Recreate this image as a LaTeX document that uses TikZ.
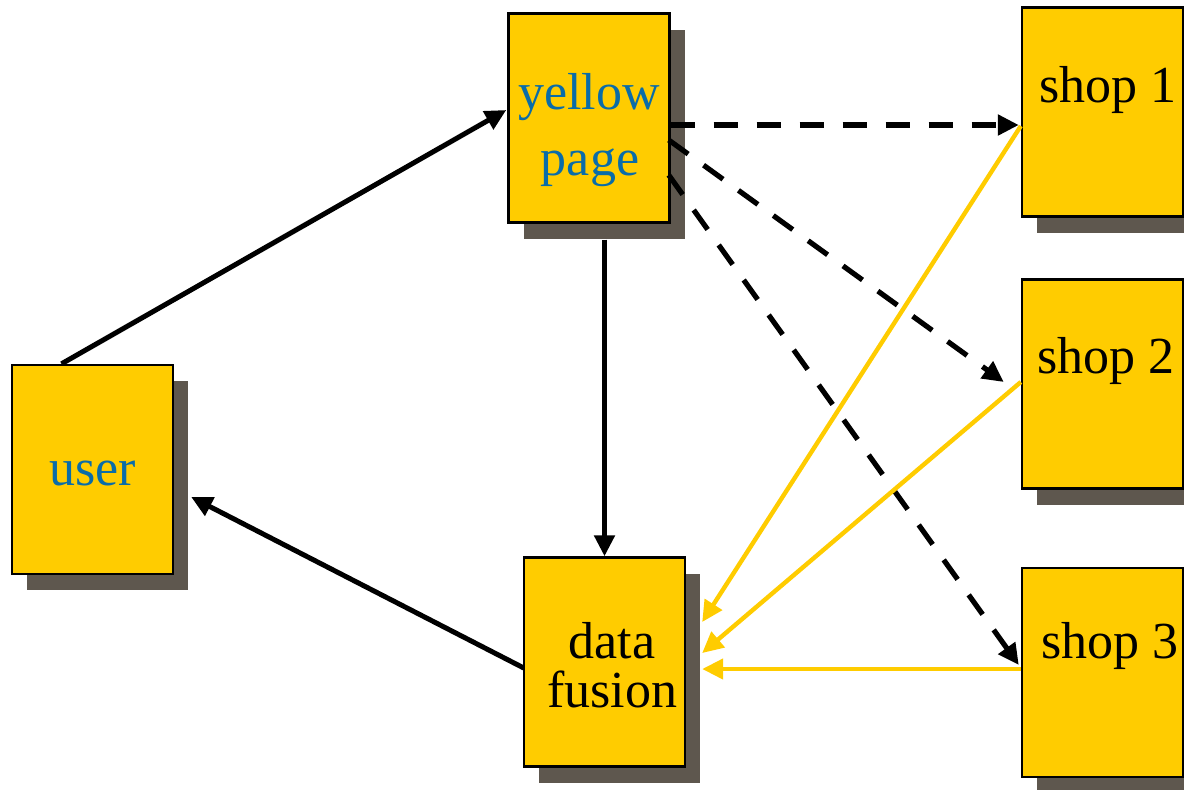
\documentclass[tikz,border=0pt]{standalone}
\usepackage{fontspec}
\setmainfont{Liberation Serif}
\usetikzlibrary{arrows.meta,calc,shadows}

\definecolor{boxfill}{HTML}{FFCC00}
\definecolor{boxshade}{HTML}{5E574E}
\definecolor{labelblue}{HTML}{0A6CA8}

\tikzset{
  unit/.style={x=0.5pt,y=-0.5pt},
  pagebox/.style={draw=black,line width=1.2pt,fill=boxfill,
    minimum width=80.5pt,minimum height=104.5pt,inner sep=0pt,
    copy shadow={shadow xshift=7.5pt,shadow yshift=-8pt,fill=boxshade,draw=none}},
  boxtext/.style={anchor=base,inner sep=0pt,font=\fontsize{26}{26}\selectfont},
  flow/.style={line width=2.5pt,-{Triangle[length=10.5pt,width=10pt]}},
  query/.style={line width=2.6pt,dash pattern=on 12pt off 9.5pt,
    -{Triangle[length=10.5pt,width=10pt]}},
  reply/.style={line width=2.2pt,draw=boxfill,
    -{Triangle[length=10.5pt,width=10pt,fill=boxfill]}},
}

\begin{document}
\begin{tikzpicture}[unit]
\useasboundingbox (0,0) rectangle (1184,789);

% boxes
\node[pagebox] (user) at (92.5,469.5) {};
\node[pagebox] (yp)   at (589,118) {};
\node[pagebox] (df)   at (604.5,662) {};
\node[pagebox] (shop1) at (1102.5,112) {};
\node[pagebox] (shop2) at (1102.5,384) {};
\node[pagebox] (shop3) at (1102.5,672.5) {};

% labels
\node[boxtext,text=labelblue] (userlbl) at (93,485) {user};
\node[boxtext,text=labelblue] (yplbl1) at (589,109) {yellow};
\node[boxtext,text=labelblue] (yplbl2) at (590,175) {page};
\node[boxtext] (dflbl1) at (612,658) {data};
\node[boxtext] (dflbl2) at (612,707) {fusion};
\node[boxtext] (s1lbl) at (1108,102) {shop 1};
\node[boxtext] (s2lbl) at (1106,373) {shop 2};
\node[boxtext] (s3lbl) at (1110,658) {shop 3};

% request and result flow
\draw[flow] ($(user.north)+(-31,0)$) -- ($(yp.west)+(-1,-8)$);
\draw[flow] ($(yp.south)+(15.5,16)$) -- (df.north);
\draw[flow] ($(df.west)+(1,6)$) -- ($(user.east)+(17,27.5)$);

% queries to the shops
\draw[query] ($(yp.east)+(0,7)$) -- ($(shop1.west)+(-2,13)$);
\draw[query] ($(yp.east)+(-2,22)$) -- ($(shop2.west)+(-17,-2)$);
\draw[query] ($(yp.east)+(-2,57)$) -- ($(shop3.west)+(-2,-7.5)$);

% shop answers
\draw[reply] ($(shop1.west)+(0,14)$) -- ($(df.east)+(16,-40)$);
\draw[reply] ($(shop2.west)+(0,-2)$) -- ($(df.east)+(16,-9)$);
\draw[reply] ($(shop3.west)+(0,-3.5)$) -- ($(df.east)+(16,7)$);
\end{tikzpicture}
\end{document}
